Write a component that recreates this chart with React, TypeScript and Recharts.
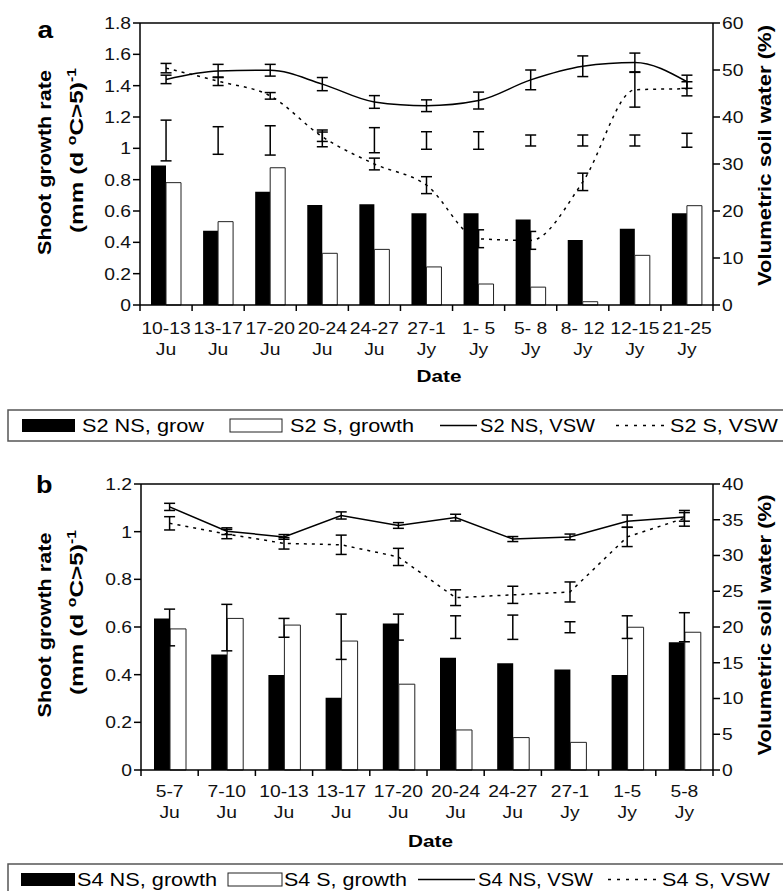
import React from 'react';
import { ComposedChart, Bar, Line, XAxis, YAxis, ErrorBar, ReferenceLine } from 'recharts';

const FONT = '"Liberation Sans", Arial, Helvetica, sans-serif';

// panel a: S2
const datesA = ['10-13', '13-17', '17-20', '20-24', '24-27', '27-1', '1- 5', '5- 8', '8- 12', '12-15', '21-25'];
const monthsA = ['Ju', 'Ju', 'Ju', 'Ju', 'Ju', 'Jy', 'Jy', 'Jy', 'Jy', 'Jy', 'Jy'];
const nsGrowA = [0.89, 0.474, 0.723, 0.638, 0.643, 0.585, 0.585, 0.545, 0.415, 0.487, 0.585];
const sGrowA = [0.781, 0.532, 0.876, 0.33, 0.355, 0.243, 0.134, 0.114, 0.021, 0.317, 0.634];
const growLowA = [0.92, 0.962, 0.957, 1.01, 0.972, 0.994, 0.994, 1.015, 1.015, 1.015, 1.007];
const growHighA = [1.18, 1.138, 1.144, 1.117, 1.132, 1.106, 1.106, 1.085, 1.085, 1.085, 1.096];
const nsVswA = [48.0, 49.8, 49.95, 47.0, 43.2, 42.4, 43.5, 47.9, 50.8, 51.6, 47.5];
const nsVswErrA = [0.9, 1.4, 1.25, 1.4, 1.35, 1.25, 1.8, 2.1, 2.2, 2.0, 1.4];
const sVswA = [50.4, 47.6, 44.5, 35.8, 30.0, 25.5, 14.1, 13.75, 26.2, 45.8, 46.0];
const sVswErrA = [1.0, 0.9, 0.7, 1.0, 1.25, 1.8, 1.9, 1.9, 1.85, 3.7, 1.5];
const leftTicksA = [0, 0.2, 0.4, 0.6, 0.8, 1, 1.2, 1.4, 1.6, 1.8];
const rightTicksA = [0, 10, 20, 30, 40, 50, 60];

// panel b: S4
const datesB = ['5-7', '7-10', '10-13', '13-17', '17-20', '20-24', '24-27', '27-1', '1-5', '5-8'];
const monthsB = ['Ju', 'Ju', 'Ju', 'Ju', 'Ju', 'Ju', 'Ju', 'Jy', 'Jy', 'Jy'];
const nsGrowB = [0.636, 0.485, 0.399, 0.303, 0.615, 0.471, 0.448, 0.422, 0.399, 0.536];
const sGrowB = [0.592, 0.636, 0.608, 0.541, 0.36, 0.168, 0.136, 0.116, 0.599, 0.578];
const growLowB = [0.521, 0.5, 0.557, 0.464, 0.545, 0.552, 0.548, 0.576, 0.552, 0.538];
const growHighB = [0.675, 0.695, 0.636, 0.654, 0.654, 0.647, 0.65, 0.622, 0.647, 0.66];
const nsVswB = [36.8, 33.4, 32.6, 35.6, 34.2, 35.3, 32.3, 32.6, 34.8, 35.4];
const nsVswErrB = [0.5, 0.47, 0.33, 0.5, 0.4, 0.47, 0.35, 0.4, 0.86, 0.6];
const sVswB = [34.5, 33.0, 31.7, 31.5, 29.8, 24.1, 24.5, 24.9, 32.6, 35.2];
const sVswErrB = [0.93, 0.65, 0.8, 1.35, 1.2, 1.1, 1.2, 1.4, 1.35, 1.1];
const leftTicksB = [0, 0.2, 0.4, 0.6, 0.8, 1, 1.2];
const rightTicksB = [0, 5, 10, 15, 20, 25, 30, 35, 40];

const buildRows = (
  dates: string[], ns: number[], s: number[], lo: number[], hi: number[],
  nsV: number[], nsE: number[], sV: number[], sE: number[]
) =>
  dates.map((d, i) => ({
    date: d,
    nsGrow: ns[i],
    sGrow: s[i],
    gMid: (lo[i] + hi[i]) / 2,
    gErr: (hi[i] - lo[i]) / 2,
    nsVsw: nsV[i],
    nsErr: nsE[i],
    sVsw: sV[i],
    sErr: sE[i],
  }));

const rowsA = buildRows(datesA, nsGrowA, sGrowA, growLowA, growHighA, nsVswA, nsVswErrA, sVswA, sVswErrA);
const rowsB = buildRows(datesB, nsGrowB, sGrowB, growLowB, growHighB, nsVswB, nsVswErrB, sVswB, sVswErrB);

const SX = 1.17; // the figure's lettering is drawn wide

const YTick = (props: any) => {
  const { x, y, payload, textAnchor } = props;
  return (
    <text
      transform={`translate(${x},${y}) scale(${SX},1)`}
      textAnchor={textAnchor}
      dy="0.36em"
      fontSize={16.5}
      fontFamily={FONT}
      fill="#111"
    >
      {payload.value}
    </text>
  );
};

const XTick = (props: any) => {
  const { x, y, payload, months, band, off1, off2 } = props;
  const i = payload.index;
  const last = i === months.length - 1;
  return (
    <g>
      <line x1={x - band / 2} x2={x - band / 2} y1={y} y2={y + 6} stroke="#000" strokeWidth={1.5} />
      {last && <line x1={x + band / 2} x2={x + band / 2} y1={y} y2={y + 6} stroke="#000" strokeWidth={1.5} />}
      <text transform={`translate(${x},${y + off1}) scale(${SX},1)`} textAnchor="middle" fontSize={16.5} fontFamily={FONT} fill="#111">
        {payload.value}
      </text>
      <text transform={`translate(${x},${y + off2}) scale(${SX},1)`} textAnchor="middle" fontSize={16.5} fontFamily={FONT} fill="#111">
        {months[i]}
      </text>
    </g>
  );
};

interface PanelProps {
  rows: any[];
  months: string[];
  top: number;
  height: number;
  margin: { top: number; right: number; bottom: number; left: number };
  xHeight: number;
  band: number;
  off1: number;
  off2: number;
  leftTicks: number[];
  rightTicks: number[];
  barSize: number;
  curve: 'monotone' | 'linear';
}

const Panel: React.FC<PanelProps> = ({ rows, months, top, height, margin, xHeight, band, off1, off2, leftTicks, rightTicks, barSize, curve }) => {
  const axisStyle = { stroke: '#000', strokeWidth: 1.5 };
  const leftMax = leftTicks[leftTicks.length - 1];
  const rightMax = rightTicks[rightTicks.length - 1];
  return (
    <div style={{ position: 'absolute', left: 0, top, width: 783, height }}>
      <ComposedChart width={783} height={height} data={rows} margin={margin} barGap={0} barSize={barSize}>
        <XAxis
          dataKey="date"
          height={xHeight}
          interval={0}
          tickSize={0}
          tickMargin={0}
          tickLine={false}
          axisLine={axisStyle}
          tick={<XTick months={months} band={band} off1={off1} off2={off2} />}
        />
        <YAxis
          yAxisId="left"
          width={60}
          domain={[0, leftMax]}
          ticks={leftTicks}
          interval={0}
          tickSize={7}
          tickMargin={2}
          axisLine={axisStyle}
          tickLine={axisStyle}
          tick={<YTick />}
        />
        <YAxis
          yAxisId="right"
          orientation="right"
          width={50}
          domain={[0, rightMax]}
          ticks={rightTicks}
          interval={0}
          tickSize={7}
          tickMargin={2}
          axisLine={axisStyle}
          tickLine={axisStyle}
          tick={<YTick />}
        />
        <ReferenceLine yAxisId="left" y={leftMax} stroke="#000" strokeWidth={1.5} />
        <Bar yAxisId="left" dataKey="nsGrow" fill="#000" isAnimationActive={false} />
        <Bar yAxisId="left" dataKey="sGrow" fill="#fff" stroke="#222" strokeWidth={1} isAnimationActive={false} />
        <Line yAxisId="left" dataKey="gMid" stroke="none" dot={false} activeDot={false} isAnimationActive={false}>
          <ErrorBar dataKey="gErr" width={5.5} stroke="#000" strokeWidth={1.5} direction="y" />
        </Line>
        <Line yAxisId="right" type={curve} dataKey="nsVsw" stroke="#000" strokeWidth={1.5} dot={false} activeDot={false} isAnimationActive={false}>
          <ErrorBar dataKey="nsErr" width={5.5} stroke="#000" strokeWidth={1.5} direction="y" />
        </Line>
        <Line yAxisId="right" type={curve} dataKey="sVsw" stroke="#000" strokeWidth={1.5} strokeDasharray="3 5" dot={false} activeDot={false} isAnimationActive={false}>
          <ErrorBar dataKey="sErr" width={5.5} stroke="#000" strokeWidth={1.5} direction="y" />
        </Line>
      </ComposedChart>
    </div>
  );
};

const Txt = (p: { x: number; y: number; len?: number; size: number; bold?: boolean; rot?: boolean; anchor?: string; children: React.ReactNode }) => (
  <text
    x={p.x}
    y={p.y}
    fontSize={p.size}
    fontWeight={p.bold ? 'bold' : 'normal'}
    textAnchor={p.anchor || 'start'}
    textLength={p.len}
    lengthAdjust={p.len ? 'spacingAndGlyphs' : undefined}
    transform={p.rot ? `rotate(-90 ${p.x} ${p.y})` : undefined}
    fontFamily={FONT}
    fill="#000"
  >
    {p.children}
  </text>
);

const UnitLabel = ({ x, y }: { x: number; y: number }) => (
  <text x={x} y={y} fontSize={18.5} fontWeight="bold" textAnchor="middle" textLength={165} lengthAdjust="spacingAndGlyphs" transform={`rotate(-90 ${x} ${y})`} fontFamily={FONT}>
    <tspan>(mm (d </tspan>
    <tspan fontSize={12} dy={-7}>o</tspan>
    <tspan dy={7}>C&gt;5)</tspan>
    <tspan fontSize={12} dy={-7}>-1</tspan>
  </text>
);

type LegendItem = { kind: 'black' | 'white' | 'solid' | 'dotted'; x1: number; x2: number; tx: number; len: number; label: string };

const legendA: LegendItem[] = [
  { kind: 'black', x1: 22, x2: 75, tx: 82, len: 122, label: 'S2 NS, grow' },
  { kind: 'white', x1: 230, x2: 282, tx: 290, len: 124, label: 'S2 S, growth' },
  { kind: 'solid', x1: 440, x2: 477, tx: 480, len: 115, label: 'S2 NS, VSW' },
  { kind: 'dotted', x1: 616, x2: 667, tx: 670, len: 108, label: 'S2 S, VSW' },
];
const legendB: LegendItem[] = [
  { kind: 'black', x1: 21, x2: 75, tx: 77, len: 140, label: 'S4 NS, growth' },
  { kind: 'white', x1: 228, x2: 282, tx: 284, len: 123, label: 'S4 S, growth' },
  { kind: 'solid', x1: 418, x2: 475, tx: 478, len: 115, label: 'S4 NS, VSW' },
  { kind: 'dotted', x1: 608, x2: 660, tx: 662, len: 108, label: 'S4 S, VSW' },
];

const LegendRow = ({ top, items, h }: { top: number; items: LegendItem[]; h: number }) => (
  <g>
    <rect x={8} y={top} width={790} height={h} fill="none" stroke="#555" strokeWidth={1.5} />
    {items.map((it) => (
      <g key={it.label}>
        {it.kind === 'black' && <rect x={it.x1} y={top + 9} width={it.x2 - it.x1} height={13} fill="#000" />}
        {it.kind === 'white' && <rect x={it.x1} y={top + 9} width={it.x2 - it.x1} height={13} fill="#fff" stroke="#222" strokeWidth={1} />}
        {it.kind === 'solid' && <line x1={it.x1} x2={it.x2} y1={top + 15.5} y2={top + 15.5} stroke="#000" strokeWidth={1.5} />}
        {it.kind === 'dotted' && <line x1={it.x1} x2={it.x2} y1={top + 15.5} y2={top + 15.5} stroke="#000" strokeWidth={1.5} strokeDasharray="3 6" />}
        <Txt x={it.tx} y={top + 22} len={it.len} size={18}>{it.label}</Txt>
      </g>
    ))}
  </g>
);

export default function App() {
  return (
    <div style={{ position: 'absolute', left: 0, top: 0, width: 783, height: 891, background: '#fff', overflow: 'hidden' }}>
      <Panel
        rows={rowsA}
        months={monthsA}
        top={0}
        height={360}
        margin={{ top: 23, right: 20, bottom: 15, left: 80 }}
        xHeight={40}
        band={573 / 11}
        off1={29}
        off2={50}
        leftTicks={leftTicksA}
        rightTicks={rightTicksA}
        barSize={15}
        curve="monotone"
      />
      <Panel
        rows={rowsB}
        months={monthsB}
        top={440}
        height={400}
        margin={{ top: 44, right: 20, bottom: 20, left: 81 }}
        xHeight={50}
        band={572 / 10}
        off1={26.7}
        off2={48}
        leftTicks={leftTicksB}
        rightTicks={rightTicksB}
        barSize={16}
        curve="linear"
      />
      <svg width={783} height={891} style={{ position: 'absolute', left: 0, top: 0, pointerEvents: 'none' }}>
        <Txt x={37.5} y={37.7} size={24} bold len={15.6}>a</Txt>
        <Txt x={36} y={493} size={24.5} bold len={16.5}>b</Txt>

        <Txt x={50.5} y={162.5} size={18.5} bold rot anchor="middle" len={185}>Shoot growth rate</Txt>
        <UnitLabel x={82.5} y={150.5} />
        <Txt x={771} y={155.5} size={18.5} bold rot anchor="middle" len={261}>Volumetric soil water (%)</Txt>
        <Txt x={439} y={381.7} size={17} bold anchor="middle" len={45}>Date</Txt>

        <Txt x={50.5} y={625} size={18.5} bold rot anchor="middle" len={185}>Shoot growth rate</Txt>
        <UnitLabel x={82.5} y={612.5} />
        <Txt x={771} y={625} size={18.5} bold rot anchor="middle" len={261}>Volumetric soil water (%)</Txt>
        <Txt x={430.5} y={846.7} size={17} bold anchor="middle" len={45}>Date</Txt>

        <LegendRow top={410} items={legendA} h={31} />
        <LegendRow top={864} items={legendB} h={40} />
      </svg>
    </div>
  );
}
